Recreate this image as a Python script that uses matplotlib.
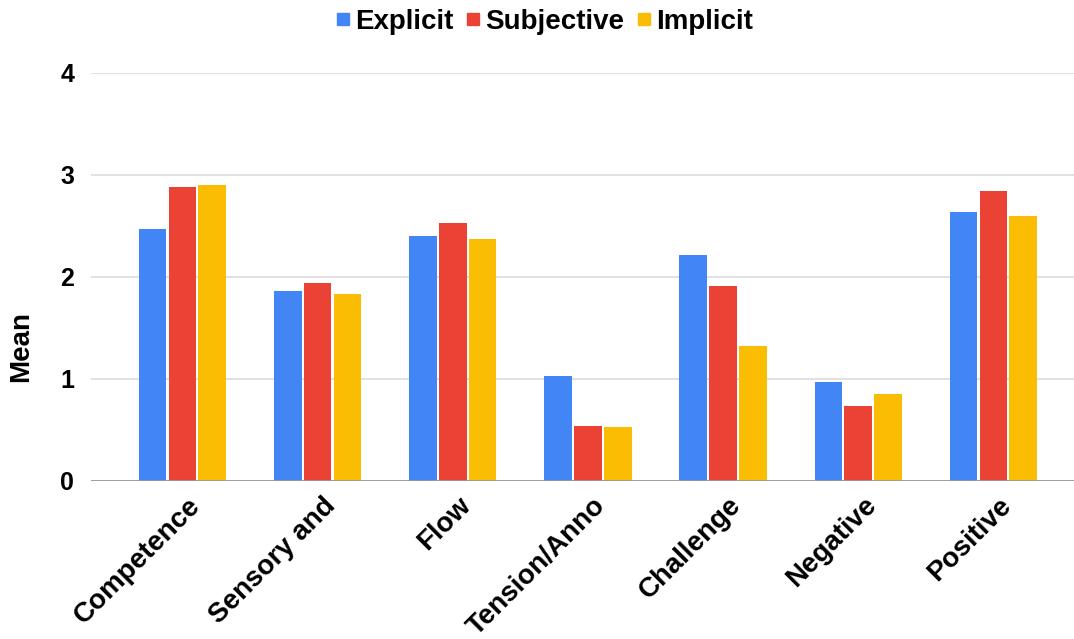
import numpy as np
import matplotlib.pyplot as plt
from matplotlib.lines import Line2D
import matplotlib.transforms as mtransforms

# mean scores per questionnaire component
categories = ["Competence", "Sensory and", "Flow", "Tension/Anno",
              "Challenge", "Negative", "Positive"]
explicit = [2.47, 1.86, 2.40, 1.03, 2.21, 0.97, 2.63]
subjective = [2.88, 1.94, 2.53, 0.54, 1.91, 0.73, 2.84]
implicit = [2.90, 1.83, 2.37, 0.53, 1.32, 0.85, 2.60]

series = [("Explicit", explicit, "#4285F4"),
          ("Subjective", subjective, "#EA4335"),
          ("Implicit", implicit, "#FBBC04")]

plt.rcParams['font.family'] = ['Liberation Sans', 'DejaVu Sans']
plt.rcParams['font.weight'] = 'bold'

fig = plt.figure(figsize=(10.74, 6.39), dpi=100)
ax = fig.add_axes([0.0845, 0.2477, 0.9155, 0.6385])

x = np.arange(len(categories))
width = 0.205
step = 0.221
for i, (name, vals, col) in enumerate(series):
    ax.bar(x + (i - 1) * step, vals, width, color=col, label=name, zorder=3)

ax.set_ylim(0, 4)
ax.set_xlim(-0.678, 6.596)
ax.set_yticks([0, 1, 2, 3, 4])
ax.yaxis.grid(True, color="#d9d9d9", linewidth=1.1, zorder=0)
ax.axhline(0, color="#999999", linewidth=2, zorder=4)
for s in ax.spines.values():
    s.set_visible(False)
ax.tick_params(axis="both", length=0, labelsize=18)
ax.tick_params(axis="y", pad=12)
for t in ax.get_yticklabels():
    t.set_fontweight("bold")

ax.set_xticks(x)
ax.set_xticklabels(categories, rotation=45, ha="right", va="center",
                   rotation_mode="anchor", fontsize=20, fontweight="bold")
shift = mtransforms.ScaledTranslation(14 / 100, -16 / 100, fig.dpi_scale_trans)
for t in ax.get_xticklabels():
    t.set_transform(t.get_transform() + shift)

ax.set_ylabel("Mean", fontsize=20, fontweight="bold")
ax.yaxis.set_label_coords(-0.058, 0.328)

handles = [Line2D([], [], linestyle="none", marker="s", markersize=8,
                  color=col) for _, _, col in series]
fig.legend(handles, [n for n, _, _ in series], loc="center",
           bbox_to_anchor=(0.507, 0.966), ncol=3, frameon=False,
           prop={"size": 20, "weight": "bold"}, handlelength=0.5,
           handletextpad=0.2, columnspacing=0.45)

fig.savefig("out.png", dpi=100)
